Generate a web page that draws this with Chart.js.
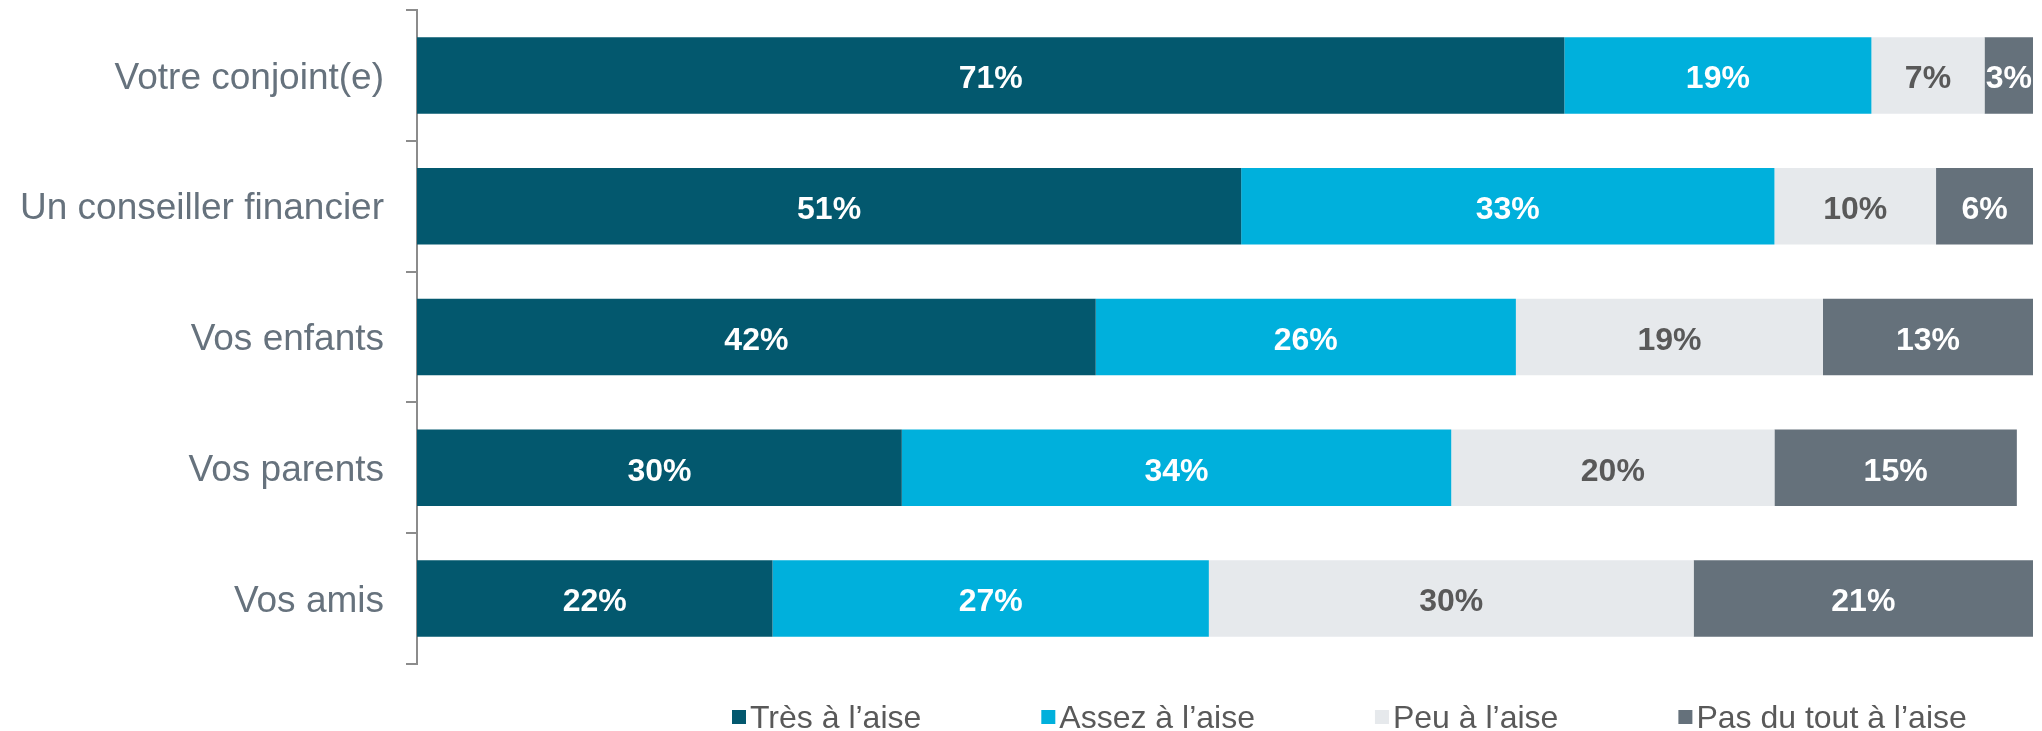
<!DOCTYPE html>
<html>
<head>
<meta charset="utf-8">
<script src="https://cdn.jsdelivr.net/npm/chart.js@4"></script>
<style>
  html, body { margin: 0; padding: 0; background: #fff; }
  #wrap { width: 2042px; height: 731px; }
</style>
</head>
<body>
<div id="wrap"><canvas id="barchart"></canvas></div>
<script>
var categories = ['Votre conjoint(e)', 'Un conseiller financier', 'Vos enfants', 'Vos parents', 'Vos amis'];
var seriesNames = ['Très à l’aise', 'Assez à l’aise', 'Peu à l’aise', 'Pas du tout à l’aise'];
var tresAlaise = [71, 51, 42, 30, 22];
var assezAlaise = [19, 33, 26, 34, 27];
var peuAlaise = [7, 10, 19, 20, 30];
var pasDuTout = [3, 6, 13, 15, 21];

var colors = ['#03586E', '#00B0DC', '#E6E9EC', '#65717B'];
var labelColors = ['#ffffff', '#ffffff', '#595959', '#ffffff'];

Chart.defaults.font.family = '"Liberation Sans", Arial, sans-serif';

// percentage inside each segment
var segmentLabels = {
    id: 'segmentLabels',
    afterDatasetsDraw: function(chart) {
        var ctx = chart.ctx;
        ctx.save();
        ctx.font = 'bold 32px "Liberation Sans", Arial, sans-serif';
        ctx.textAlign = 'center';
        ctx.textBaseline = 'middle';
        chart.data.datasets.forEach(function(ds, i) {
            var meta = chart.getDatasetMeta(i);
            ctx.fillStyle = labelColors[i];
            meta.data.forEach(function(bar, j) {
                var cx = (bar.x + bar.base) / 2;
                ctx.fillText(ds.data[j] + '%', cx, bar.y + 4);
            });
        });
        ctx.restore();
    }
};

// legend row under the bars
var bottomLegend = {
    id: 'bottomLegend',
    afterDraw: function(chart) {
        var ctx = chart.ctx;
        var startX = 732, y = 717, box = 14, gap = 4, spacing = 120;
        ctx.save();
        ctx.font = '32px "Liberation Sans", Arial, sans-serif';
        ctx.textBaseline = 'middle';
        ctx.textAlign = 'left';
        var x = startX;
        chart.data.datasets.forEach(function(ds) {
            ctx.fillStyle = ds.backgroundColor;
            ctx.fillRect(x, y - box / 2, box, box);
            ctx.fillStyle = '#595959';
            ctx.fillText(ds.label, x + box + gap, y + 2);
            x += box + gap + ctx.measureText(ds.label).width + spacing;
        });
        ctx.restore();
    }
};

var ctx = document.getElementById('barchart').getContext('2d');
var myChart = new Chart(ctx, {
    type: 'bar',
    data: {
        labels: categories,
        datasets: [
            { label: seriesNames[0], data: tresAlaise, backgroundColor: colors[0] },
            { label: seriesNames[1], data: assezAlaise, backgroundColor: colors[1] },
            { label: seriesNames[2], data: peuAlaise, backgroundColor: colors[2] },
            { label: seriesNames[3], data: pasDuTout, backgroundColor: colors[3] }
        ]
    },
    options: {
        indexAxis: 'y',
        responsive: true,
        maintainAspectRatio: false,
        animation: false,
        layout: { padding: { top: 10, right: 9, bottom: 67, left: 0 } },
        datasets: {
            bar: { barPercentage: 0.585, categoryPercentage: 1, borderWidth: 0 }
        },
        scales: {
            x: { stacked: true, min: 0, max: 100, display: false },
            y: {
                stacked: true,
                afterFit: function(scale) {
                    scale.width = 417;
                    scale.paddingTop = 0;
                    scale.paddingBottom = 0;
                },
                border: { display: true, color: '#8C8C8C', width: 2 },
                grid: {
                    offset: true,
                    drawOnChartArea: false,
                    drawTicks: true,
                    tickLength: 11,
                    color: '#8C8C8C',
                    lineWidth: 2
                },
                ticks: {
                    padding: 22,
                    labelOffset: 3,
                    color: '#66727D',
                    font: { size: 37 }
                }
            }
        },
        plugins: {
            legend: { display: false },
            tooltip: { enabled: false }
        }
    },
    plugins: [segmentLabels, bottomLegend]
});
</script>
</body>
</html>
